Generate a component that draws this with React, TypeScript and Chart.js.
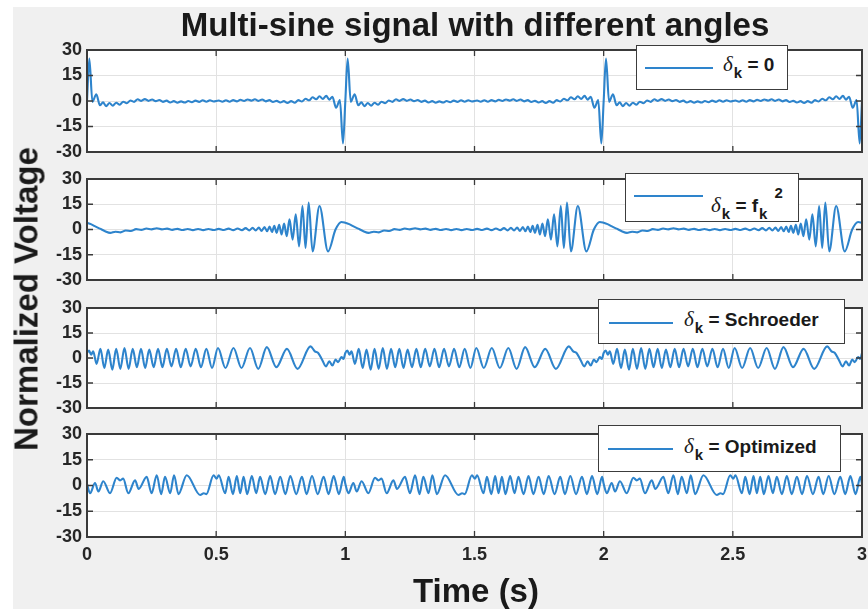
import React, { useEffect, useRef } from "react";
import { Chart, registerables } from "chart.js";

Chart.register(...registerables);

const FONT = "'Liberation Sans', Arial, Helvetica, sans-serif";
const LINE_COLOR = "#2e84cc";
const TEXT_COLOR = "#262626";

const xTicks = [0, 0.5, 1, 1.5, 2, 2.5, 3];
const xTickLabels = ["0", "0.5", "1", "1.5", "2", "2.5", "3"];
const yTicks = [-30, -15, 0, 15, 30];
const yTickLabels = ["-30", "-15", "0", "15", "30"];
const periodStarts = [0, 1, 2];
const endTime = 3;

const titleText = "Multi-sine signal with different angles";
const yLabelText = "Normalized Voltage";
const xLabelText = "Time (s)";

// One 1-second period of each (periodic) signal: [time (s), normalized voltage]
const zeroPhase: [number, number][] = [
  [0, 0], [0.009, 25], [0.021, -0.5], [0.036, 4], [0.05, -2.5], [0.062, -0.8], [0.074, -3], [0.087, -1.2],
  [0.1, -2.8], [0.113, -1], [0.127, -2.2], [0.14, -0.4], [0.154, -1.3], [0.168, 0.3], [0.182, -0.5], [0.196, 1],
  [0.21, 0.1], [0.224, 1.1], [0.238, 0.1], [0.252, 0.9], [0.266, -0.1], [0.28, 0.6], [0.294, -0.5], [0.308, 0.2],
  [0.322, -0.9], [0.336, -0.1], [0.35, -1], [0.364, -0.2], [0.378, -0.9], [0.392, 0], [0.406, -0.7], [0.42, 0.2],
  [0.434, -0.5], [0.448, 0.4], [0.462, -0.4], [0.476, 0.4], [0.49, -0.3], [0.51, 0.3], [0.524, -0.4], [0.538, 0.4],
  [0.552, -0.4], [0.566, 0.5], [0.58, -0.2], [0.594, 0.7], [0.608, 0], [0.622, 0.9], [0.636, 0.2], [0.65, 1],
  [0.664, 0.1], [0.678, 0.9], [0.692, -0.2], [0.706, 0.5], [0.72, -0.6], [0.734, 0.1], [0.748, -0.9], [0.762, -0.1],
  [0.776, -1.1], [0.79, -0.1], [0.804, -1], [0.818, 0.5], [0.832, -0.3], [0.846, 1.3], [0.86, 0.4], [0.873, 2.2],
  [0.887, 1], [0.9, 2.8], [0.913, 1.2], [0.926, 3], [0.938, 0.8], [0.95, 2.5], [0.964, -4], [0.979, 0.5],
  [0.991, -25],
];

const quadraticPhase: [number, number][] = [
  [0, 4], [0.015, 3.2], [0.03, 2], [0.05, 0.5], [0.07, -1], [0.09, -2], [0.11, -1.3], [0.13, -1.7],
  [0.15, -0.6], [0.17, -0.9], [0.19, 0.2], [0.21, -0.2], [0.23, 0.6], [0.25, 0.1], [0.27, 0.7], [0.29, 0.1],
  [0.31, 0.5], [0.33, -0.2], [0.35, 0.4], [0.37, -0.3], [0.39, 0.3], [0.41, -0.4], [0.43, 0.3], [0.45, -0.4],
  [0.47, 0.3], [0.49, -0.3], [0.51, 0.4], [0.53, -0.3], [0.548, 0.5], [0.566, -0.4], [0.583, 0.6], [0.6, -0.4],
  [0.614, 0.8], [0.628, -0.5], [0.641, 1], [0.653, -0.6], [0.665, 1.2], [0.676, -0.8], [0.687, 1.5], [0.697, -1],
  [0.707, 1.8], [0.716, -1.5], [0.725, 2.2], [0.734, -2], [0.744, 2.8], [0.753, -3], [0.763, 3.5], [0.773, -4],
  [0.784, 6], [0.796, -6], [0.808, 9], [0.821, -10], [0.834, 14], [0.846, -11], [0.858, 16], [0.873, -13],
  [0.9, 14], [0.933, -13], [0.962, 0], [0.985, 4.5],
];

const schroederPhase: [number, number][] = [
  [0, 3], [0.008, 4.5], [0.016, 2], [0.024, 4], [0.037, -3.5], [0.052, 5.5], [0.067, -6], [0.082, 5],
  [0.098, -7], [0.113, 5.5], [0.129, -6.5], [0.145, 6], [0.161, -6.5], [0.177, 5.5], [0.193, -5.5], [0.209, 5.5],
  [0.225, -6], [0.241, 5], [0.258, -5.5], [0.275, 5.5], [0.292, -5.5], [0.309, 5.5], [0.327, -5], [0.345, 5.5],
  [0.363, -5.5], [0.382, 5.5], [0.401, -5], [0.421, 5.5], [0.441, -5.5], [0.462, 5.5], [0.484, -6], [0.507, 6],
  [0.536, -6], [0.567, 6], [0.598, -6], [0.631, 6], [0.663, -6.5], [0.696, 6.5], [0.733, -5.5], [0.774, 5.5],
  [0.815, -6.5], [0.865, 7], [0.882, 4], [0.895, 3], [0.91, -1], [0.925, -5], [0.938, -2], [0.95, -4.5],
  [0.962, -1], [0.972, -2.5], [0.985, 0.5], [0.993, -0.5],
];

const optimizedPhase: [number, number][] = [
  [0, 1], [0.012, -4.5], [0.031, 1.5], [0.044, -3.5], [0.063, 2.5], [0.089, -4.5], [0.115, 4.5], [0.128, 3],
  [0.14, 4], [0.16, -4.5], [0.186, 3], [0.2, -2], [0.231, 5], [0.25, -4.5], [0.27, 6], [0.287, -5],
  [0.302, 5], [0.322, -4.5], [0.337, 6], [0.354, -5], [0.386, 6], [0.438, -5.5], [0.452, -4.5], [0.462, -5],
  [0.49, 6], [0.502, 4], [0.51, 6], [0.535, -4.5], [0.548, 5], [0.565, -5], [0.58, 5.5], [0.593, -4.5],
  [0.606, 5], [0.62, -5], [0.638, 5.5], [0.655, -4.5], [0.67, 5], [0.69, -5], [0.709, 5.5], [0.728, -5],
  [0.748, 5], [0.768, -5], [0.787, 5.5], [0.81, -5], [0.832, 5], [0.85, -5], [0.871, 5.5], [0.893, -5],
  [0.916, 5], [0.935, -5], [0.955, 5.5], [0.975, -5], [0.994, 5],
];

const legendNames = ["0", "f", "Schroeder", "Optimized"];

const panels = [
  { top: 50, bottom: 152, period: zeroPhase,
    legend: { left: 636, top: 45, width: 152, height: 45, lineLeft: 8, lineWidth: 68, lineY: 22, textLeft: 86, baseline: 25 } },
  { top: 179, bottom: 280, period: quadraticPhase,
    legend: { left: 625, top: 173, width: 174, height: 49, lineLeft: 8, lineWidth: 69, lineY: 22, textLeft: 85, baseline: 38 } },
  { top: 308, bottom: 408, period: schroederPhase,
    legend: { left: 598, top: 299, width: 247, height: 45, lineLeft: 10, lineWidth: 64, lineY: 23, textLeft: 85, baseline: 26 } },
  { top: 434, bottom: 537, period: optimizedPhase,
    legend: { left: 598, top: 425, width: 243, height: 47, lineLeft: 9, lineWidth: 65, lineY: 23, textLeft: 85, baseline: 27 } },
];

const CANVAS_LEFT = 40;
const CANVAS_WIDTH = 828;
const PAD = 10;
const X_AXIS_H = 30;

const framePlugin = {
  id: "frame",
  beforeDraw(chart: any) {
    const { ctx, chartArea: a } = chart;
    ctx.save();
    ctx.fillStyle = "#ffffff";
    ctx.fillRect(a.left, a.top, a.right - a.left, a.bottom - a.top);
    ctx.restore();
  },
  afterDraw(chart: any) {
    const { ctx, chartArea: a, scales } = chart;
    const xs = scales.x;
    const ys = scales.y;
    ctx.save();
    ctx.strokeStyle = "#3a3a3a";
    ctx.lineWidth = 1.3;
    ctx.beginPath();
    xTicks.forEach((v) => {
      const px = xs.getPixelForValue(v);
      ctx.moveTo(px, a.bottom);
      ctx.lineTo(px, a.bottom - 6);
      ctx.moveTo(px, a.top);
      ctx.lineTo(px, a.top + 6);
    });
    yTicks.forEach((v) => {
      const py = ys.getPixelForValue(v);
      ctx.moveTo(a.left, py);
      ctx.lineTo(a.left + 6, py);
      ctx.moveTo(a.right, py);
      ctx.lineTo(a.right - 6, py);
    });
    ctx.stroke();
    ctx.lineWidth = 2;
    ctx.strokeStyle = "#3a3a3a";
    ctx.strokeRect(a.left, a.top, a.right - a.left, a.bottom - a.top);
    ctx.restore();
  },
};

function makeChart(canvas: HTMLCanvasElement, period: [number, number][], isBottom: boolean) {
  const data: { x: number; y: number }[] = [];
  periodStarts.forEach((p) => period.forEach(([t, v]) => data.push({ x: p + t, y: v })));
  data.push({ x: endTime, y: period[0][1] });
  const tickFont = { family: FONT, size: 18, weight: "bold" as const };
  return new Chart(canvas, {
    type: "line",
    data: {
      datasets: [
        {
          data,
          borderColor: LINE_COLOR,
          borderWidth: 2.1,
          pointRadius: 0,
          cubicInterpolationMode: "monotone",
          fill: false,
        },
      ],
    },
    options: {
      animation: false,
      responsive: false,
      maintainAspectRatio: false,
      devicePixelRatio: 1,
      events: [],
      layout: { padding: { top: PAD, bottom: PAD, left: 0, right: 6 } },
      plugins: { legend: { display: false }, tooltip: { enabled: false }, title: { display: false } },
      scales: {
        x: {
          type: "linear",
          min: 0,
          max: 3,
          afterBuildTicks: (s: any) => {
            s.ticks = xTicks.map((v) => ({ value: v }));
          },
          afterFit: (s: any) => {
            s.height = isBottom ? X_AXIS_H : 0;
            s.paddingLeft = 0;
            s.paddingRight = 0;
          },
          grid: { color: "#e2e2e2", lineWidth: 1, drawTicks: false },
          border: { display: false },
          ticks: {
            display: isBottom,
            autoSkip: false,
            maxRotation: 0,
            padding: 7,
            color: TEXT_COLOR,
            font: tickFont,
            callback: (_v: any, i: number) => xTickLabels[i],
          },
        },
        y: {
          type: "linear",
          min: -30,
          max: 30,
          afterBuildTicks: (s: any) => {
            s.ticks = yTicks.map((v) => ({ value: v }));
          },
          afterFit: (s: any) => {
            s.width = 47;
            s.paddingTop = 0;
            s.paddingBottom = 0;
          },
          grid: { color: "#e2e2e2", lineWidth: 1, drawTicks: false },
          border: { display: false },
          ticks: {
            autoSkip: false,
            padding: 5,
            color: TEXT_COLOR,
            font: tickFont,
            callback: (_v: any, i: number) => yTickLabels[i],
          },
        },
      },
    },
    plugins: [framePlugin],
  } as any);
}

function LegendText({ index }: { index: number }) {
  const delta = (
    <span style={{ fontFamily: "'Liberation Serif', 'DejaVu Serif', serif", fontStyle: "italic", fontWeight: "normal", fontSize: 21 }}>δ</span>
  );
  const sub = (t: string) => (
    <span style={{ fontSize: 15, position: "relative", top: 7, marginLeft: 1 }}>{t}</span>
  );
  if (index === 1) {
    return (
      <>
        {delta}
        {sub("k")}
        {" = f"}
        {sub("k")}
        <span style={{ fontSize: 15, position: "relative", top: -14, marginLeft: 7 }}>2</span>
      </>
    );
  }
  return (
    <>
      {delta}
      {sub("k")}
      {" = " + legendNames[index]}
    </>
  );
}

export default function App() {
  const r0 = useRef<HTMLCanvasElement>(null);
  const r1 = useRef<HTMLCanvasElement>(null);
  const r2 = useRef<HTMLCanvasElement>(null);
  const r3 = useRef<HTMLCanvasElement>(null);
  const refs = [r0, r1, r2, r3];

  useEffect(() => {
    document.body.style.margin = "0";
    const charts = panels.map((p, i) => makeChart(refs[i].current as HTMLCanvasElement, p.period, i === panels.length - 1));
    return () => charts.forEach((c) => c.destroy());
  }, []);

  const bigText: React.CSSProperties = {
    position: "absolute",
    fontFamily: FONT,
    fontWeight: "bold",
    fontSize: 33,
    lineHeight: "33px",
    color: "#1a1a1a",
    whiteSpace: "nowrap",
  };

  return (
    <div style={{ position: "absolute", left: 0, top: 0, width: 868, height: 609, background: "#ffffff", overflow: "hidden" }}>
      <div style={{ position: "absolute", left: 13, top: 7, width: 855, height: 602, background: "#f0f0f0" }} />
      {panels.map((p, i) => {
        const isBottom = i === panels.length - 1;
        const h = p.bottom - p.top + PAD * 2 + (isBottom ? X_AXIS_H : 0);
        return (
          <canvas
            key={"c" + i}
            ref={refs[i]}
            width={CANVAS_WIDTH}
            height={h}
            style={{ position: "absolute", left: CANVAS_LEFT, top: p.top - PAD, width: CANVAS_WIDTH, height: h }}
          />
        );
      })}
      {panels.map((p, i) => {
        const L = p.legend;
        return (
          <div
            key={"l" + i}
            style={{
              position: "absolute",
              left: L.left,
              top: L.top,
              width: L.width,
              height: L.height,
              background: "#ffffff",
              border: "1.6px solid #3c3c3c",
              boxSizing: "border-box",
            }}
          >
            <div style={{ position: "absolute", left: L.lineLeft, top: L.lineY - 1, width: L.lineWidth, height: 2, background: LINE_COLOR }} />
            <div
              style={{
                position: "absolute",
                left: L.textLeft,
                top: L.baseline - 16,
                fontFamily: FONT,
                fontWeight: "bold",
                fontSize: 19,
                lineHeight: "19px",
                color: "#1a1a1a",
                whiteSpace: "nowrap",
              }}
            >
              <LegendText index={i} />
            </div>
          </div>
        );
      })}
      <div style={{ ...bigText, left: 475, top: 8, transform: "translateX(-50%)" }}>{titleText}</div>
      <div style={{ ...bigText, left: 476, top: 574, transform: "translateX(-50%)" }}>{xLabelText}</div>
      <div style={{ ...bigText, left: 25.6, top: 298.5, transform: "translate(-50%, -50%) rotate(-90deg)" }}>{yLabelText}</div>
    </div>
  );
}
